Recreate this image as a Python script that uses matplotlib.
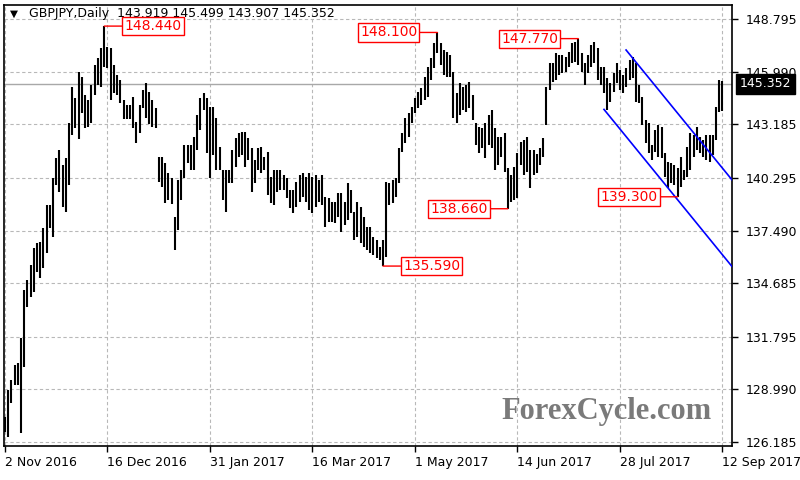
import matplotlib
matplotlib.use('Agg')
import matplotlib.pyplot as plt
import matplotlib.transforms as mtransforms

# daily GBPJPY bars (high / low), 2 Nov 2016 .. 12 Sep 2017
highs = [127.52, 128.95, 129.49, 130.29, 130.38, 131.72, 134.31, 134.84, 135.65, 136.54,
         136.81, 136.90, 137.61, 138.86, 138.86, 140.29, 141.36, 141.81, 141.00, 141.36,
         143.23, 145.20, 144.57, 145.96, 145.73, 144.75, 144.48, 145.29, 146.36, 146.71,
         147.25, 148.44, 147.34, 147.25, 146.36, 145.82, 145.55, 144.48, 144.22, 144.22,
         144.66, 143.32, 144.22, 145.02, 145.38, 144.93, 144.48, 144.04, 141.45, 141.45,
         141.09, 140.56, 140.30, 138.24, 140.20, 140.73, 142.07, 142.07, 142.07, 142.52,
         143.68, 144.57, 144.84, 144.57, 144.13, 144.13, 143.50, 141.98, 140.73, 140.73,
         140.73, 141.80, 142.43, 142.70, 142.79, 142.79, 142.43, 141.89, 141.27, 141.89,
         141.98, 141.45, 141.72, 140.38, 140.73, 140.73, 140.73, 140.47, 140.29, 139.66,
         139.66, 140.11, 140.47, 140.56, 140.38, 140.56, 140.38, 140.47, 140.20, 140.47,
         139.31, 139.22, 139.04, 139.04, 139.48, 139.48, 139.04, 140.02, 139.66, 138.50,
         139.04, 138.77, 138.23, 137.70, 137.70, 137.16, 136.99, 136.63, 136.99, 140.11,
         140.02, 140.20, 140.29, 141.89, 142.70, 143.50, 143.77, 144.13, 144.57, 144.93,
         145.11, 145.73, 146.27, 146.71, 147.52, 148.10, 147.52, 147.16, 147.07, 146.89,
         146.00, 144.84, 145.38, 145.20, 145.29, 145.47, 144.75, 143.23, 143.06, 142.97,
         143.23, 143.68, 143.95, 142.97, 142.52, 142.52, 142.70, 140.82, 140.47, 140.91,
         141.63, 142.25, 142.34, 142.52, 141.81, 141.81, 141.60, 141.89, 142.43, 145.20,
         146.45, 146.45, 146.98, 146.90, 146.89, 146.80, 147.07, 147.52, 147.61, 147.77,
         146.98, 146.45, 146.89, 147.43, 147.61, 147.25, 146.27, 146.27, 145.64, 145.38,
         145.91, 146.45, 146.09, 145.82, 146.18, 146.63, 146.80, 146.45, 145.29, 144.66,
         143.41, 143.23, 142.07, 142.88, 143.14, 143.05, 141.63, 141.18, 141.09, 141.00,
         140.82, 141.45, 140.73, 141.98, 142.70, 142.61, 143.05, 142.52, 142.34, 142.61,
         142.61, 142.61, 144.13, 145.55, 145.499]
lows = [126.72, 126.45, 128.24, 129.22, 129.22, 126.63, 130.20, 133.42, 133.95, 134.22,
        135.29, 134.93, 135.47, 136.27, 137.61, 137.17, 139.93, 139.57, 138.77, 138.50,
        139.93, 142.61, 142.97, 142.39, 143.77, 142.97, 143.06, 143.23, 144.75, 145.29,
        145.20, 146.27, 146.18, 144.48, 144.84, 144.75, 144.30, 143.47, 143.47, 143.47,
        142.97, 142.16, 142.70, 144.04, 143.50, 143.20, 143.06, 142.97, 140.11, 139.84,
        138.95, 139.13, 138.90, 136.45, 137.52, 139.13, 140.29, 141.09, 140.73, 140.73,
        141.80, 142.88, 143.95, 141.63, 140.29, 141.54, 140.73, 140.73, 139.13, 138.50,
        140.02, 140.02, 140.91, 141.45, 141.54, 140.91, 141.27, 139.57, 140.02, 140.73,
        140.56, 140.73, 139.39, 138.95, 138.86, 139.57, 139.66, 139.66, 139.22, 138.68,
        138.41, 138.77, 139.04, 139.31, 139.04, 138.59, 138.41, 138.77, 139.04, 138.86,
        137.70, 137.97, 137.97, 137.88, 138.23, 137.43, 137.79, 138.06, 138.41, 136.99,
        137.16, 136.81, 136.63, 136.45, 136.27, 136.18, 136.00, 135.91, 135.59, 136.09,
        138.86, 138.95, 139.31, 140.02, 141.72, 142.16, 142.52, 143.23, 143.77, 144.04,
        144.22, 144.48, 144.66, 145.55, 146.18, 147.00, 146.36, 145.82, 145.73, 145.73,
        143.50, 143.23, 143.68, 143.95, 143.86, 144.04, 143.41, 142.07, 141.63, 141.89,
        141.36, 142.07, 141.89, 140.73, 141.00, 141.45, 140.65, 138.66, 139.04, 139.13,
        139.22, 141.00, 140.47, 140.65, 139.75, 140.47, 140.60, 141.00, 141.45, 143.14,
        145.02, 145.47, 145.55, 145.80, 145.91, 146.00, 146.27, 146.45, 146.54, 146.36,
        146.00, 145.29, 145.91, 146.27, 146.45, 145.55, 145.29, 144.84, 143.95, 144.40,
        144.93, 145.38, 145.02, 144.84, 145.20, 145.55, 145.64, 144.40, 144.31, 143.14,
        142.16, 141.63, 141.27, 141.72, 141.45, 141.36, 140.38, 139.75, 140.02, 139.93,
        139.30, 139.84, 140.20, 140.38, 140.74, 141.45, 141.81, 141.63, 141.45, 141.27,
        141.18, 141.54, 142.34, 143.86, 143.907]

date_labels = ['2 Nov 2016', '16 Dec 2016', '31 Jan 2017', '16 Mar 2017',
               '1 May 2017', '14 Jun 2017', '28 Jul 2017', '12 Sep 2017']
bars_per_label = 32
price_ticks = [148.795, 145.990, 143.185, 140.295, 137.490, 134.685, 131.795, 128.990, 126.185]
last_ohlc = [143.919, 145.499, 143.907, 145.352]

# swing highs/lows marked on the chart: bar index, price, box side
swings = [(31, 148.440, 'right'), (135, 148.100, 'left'), (179, 147.770, 'left'),
          (118, 135.590, 'right'), (157, 138.660, 'left'), (210, 139.300, 'left')]
# falling channel (bar index, price)
channel_upper = [(193.9, 147.16), (227.0, 140.20)]
channel_lower = [(187.0, 143.98), (227.0, 135.56)]

W, H = 800, 480
fig = plt.figure(figsize=(8, 4.8), dpi=100)
ax = fig.add_axes([4 / W, 1 - 446 / H, (732 - 4) / W, (446 - 5) / H])

xs = list(range(len(highs)))
ax.vlines(xs, lows, highs, color='black', lw=1.5, zorder=3)

ax.plot([p[0] for p in channel_upper], [p[1] for p in channel_upper], color='#0000ff', lw=1.2, zorder=4)
ax.plot([p[0] for p in channel_lower], [p[1] for p in channel_lower], color='#0000ff', lw=1.2, zorder=4)

# current price line
ax.axhline(last_ohlc[3], color='#a8a8a8', lw=1, zorder=2)

ax.set_xlim(-0.31, 226.97)
ax.set_ylim(125.955, 149.57)

ax.set_xticks([k * bars_per_label for k in range(len(date_labels))])
ax.set_xticklabels(date_labels)
for lbl in ax.get_xticklabels():
    lbl.set_ha('left')
ax.yaxis.tick_right()
ax.set_yticks(price_ticks)
ax.set_yticklabels([f'{v:.3f}' for v in price_ticks])
ax.tick_params(axis='x', length=4.5, width=1, pad=2.5, labelsize=9, colors='black')
ax.tick_params(axis='y', length=4, width=1, pad=6, labelsize=9, colors='black')

ax.grid(True, color='#b8b8b8', lw=0.8, linestyle=(0, (3, 2.3)))
ax.set_axisbelow(True)
for s in ax.spines.values():
    s.set_linewidth(1.2)
    s.set_color('black')

for i, p, side in swings:
    dx = 14.5 if side == 'right' else -14.5
    ax.annotate(f'{p:.3f}', xy=(i, p), xytext=(dx, 0), textcoords='offset points',
                ha='left' if side == 'right' else 'right', va='center',
                color='#ff0000', fontsize=10, zorder=6, annotation_clip=False,
                bbox=dict(boxstyle='square,pad=0.15', fc='white', ec='#ff0000', lw=1),
                arrowprops=dict(arrowstyle='-', color='#ff0000', lw=1, shrinkA=0, shrinkB=0))

# price marker on right axis
trans = mtransforms.blended_transform_factory(ax.transAxes, ax.transData)
ax.text(1.0105, last_ohlc[3], f'{last_ohlc[3]:.3f}', transform=trans, color='white',
        fontsize=9, va='center', ha='left', clip_on=False, zorder=7,
        bbox=dict(boxstyle='square,pad=0.3', fc='black', ec='black'))

# header
ax.text(10 / W, 1 - 14 / H, '\u25bc', transform=fig.transFigure, fontsize=7.5,
        va='center', ha='left', color='black', zorder=1)
ax.text(29 / W, 1 - 14 / H, 'GBPJPY,Daily  ' + ' '.join(f'{v:.3f}' for v in last_ohlc),
        transform=fig.transFigure, fontsize=9, va='center', ha='left', color='black', zorder=1)

fig.text(606 / W, 1 - 411 / H, 'ForexCycle.com', family='Liberation Serif', fontweight='bold',
         fontsize=22, color='#7a7a7a', ha='center', va='center')

fig.savefig('out.png', dpi=100)
